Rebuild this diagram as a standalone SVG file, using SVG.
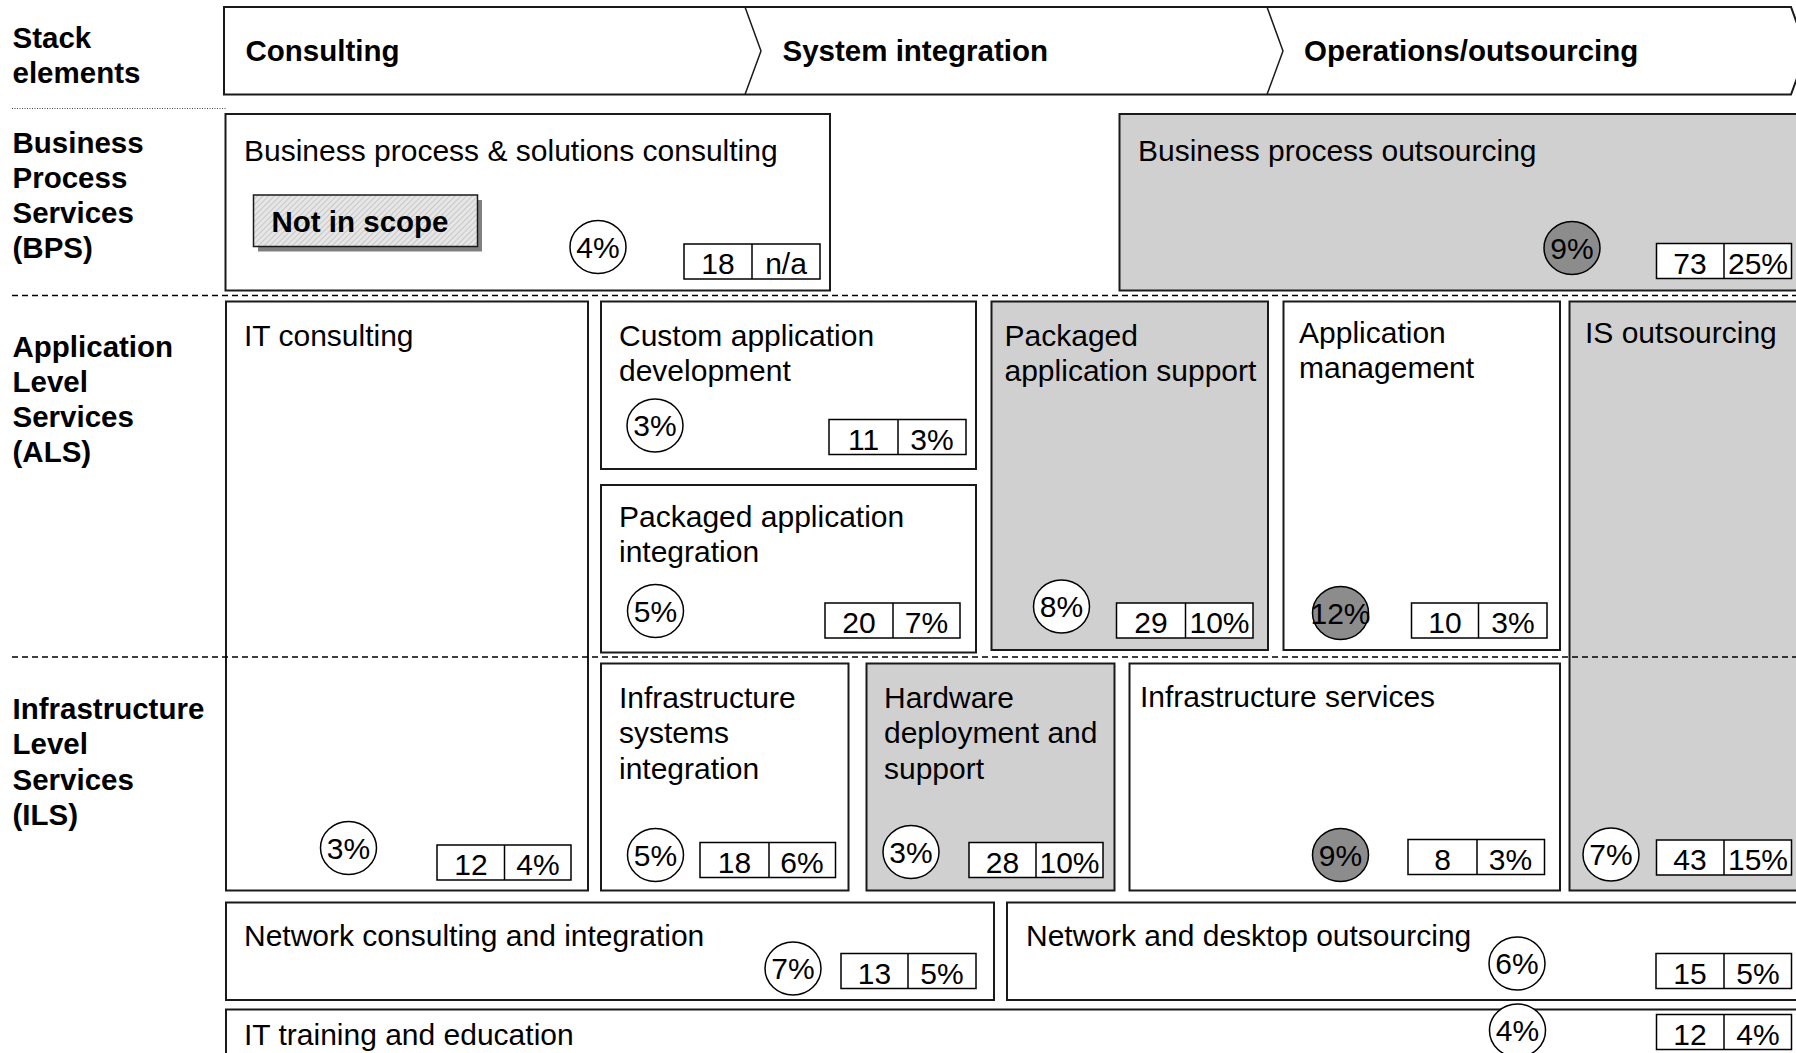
<svg xmlns="http://www.w3.org/2000/svg" width="1796" height="1053" viewBox="0 0 1796 1053">
<defs>
<style>
.t{font-family:"Liberation Sans",Arial,sans-serif;font-size:30px;fill:#000}
.b{font-weight:bold;font-size:29.5px}
.m{text-anchor:middle}
.box{fill:#fff;stroke:#1a1a1a;stroke-width:2}
.gbox{fill:#d0d0d0;stroke:#1a1a1a;stroke-width:2}
.vb{fill:#fff;stroke:#000;stroke-width:1.5}
.cw{fill:#fff;stroke:#000;stroke-width:1.5}
.cd{fill:#8c8c8c;stroke:#000;stroke-width:1.5}
.sep{stroke:#000;stroke-width:1.5;stroke-dasharray:6 4;fill:none}
</style>
<pattern id="hatch" width="4" height="4" patternUnits="userSpaceOnUse" patternTransform="rotate(45)">
<rect width="4" height="4" fill="#e6e6e6"/>
<line x1="0" y1="0" x2="0" y2="4" stroke="#a8a8a8" stroke-width="1"/>
</pattern>
</defs>
<rect width="1796" height="1053" fill="#fff"/>

<g id="header">
<path d="M224,7 L1791,7 L1807,51 L1791,94.5 L224,94.5 Z" fill="#fff" stroke="#1a1a1a" stroke-width="2"/>
<path d="M745,7 L761,51 L745,94.5 M1267,7 L1283,51 L1267,94.5" fill="none" stroke="#1a1a1a" stroke-width="1.5"/>
<text class="t b" x="245.5" y="61">Consulting</text>
<text class="t b" x="782.5" y="61">System integration</text>
<text class="t b" x="1304" y="61">Operations/outsourcing</text>
</g>

<g id="row-labels">
<text class="t b" x="12.5" y="48">Stack</text>
<text class="t b" x="12.5" y="83">elements</text>
<text class="t b" x="12.5" y="153">Business</text>
<text class="t b" x="12.5" y="188">Process</text>
<text class="t b" x="12.5" y="223">Services</text>
<text class="t b" x="12.5" y="258">(BPS)</text>
<text class="t b" x="12.5" y="356.5">Application</text>
<text class="t b" x="12.5" y="391.5">Level</text>
<text class="t b" x="12.5" y="427">Services</text>
<text class="t b" x="12.5" y="462">(ALS)</text>
<text class="t b" x="12.5" y="718.5">Infrastructure</text>
<text class="t b" x="12.5" y="754">Level</text>
<text class="t b" x="12.5" y="789.5">Services</text>
<text class="t b" x="12.5" y="825">(ILS)</text>
</g>

<g id="bps-consulting">
<rect class="box" x="225.5" y="114" width="604.5" height="176.5"/>
<text class="t" x="244" y="161">Business process &amp; solutions consulting</text>
<rect x="258" y="200" width="224" height="51.5" fill="#808080"/>
<rect x="253.5" y="195" width="224" height="51.5" fill="url(#hatch)" stroke="#1a1a1a" stroke-width="1.5"/>
<text class="t b" x="271.5" y="231.5">Not in scope</text>
<ellipse class="cw" cx="598" cy="247" rx="28" ry="26.5"/>
<text class="t m" x="598" y="257.5">4%</text>
<rect class="vb" x="684" y="244" width="136" height="35"/>
<line x1="752" y1="244" x2="752" y2="279" stroke="#000" stroke-width="1.5"/>
<text class="t m" x="718" y="274">18</text>
<text class="t m" x="786" y="274">n/a</text>
</g>

<g id="bpo">
<rect class="gbox" x="1119.5" y="114" width="690" height="176.5"/>
<text class="t" x="1138" y="161">Business process outsourcing</text>
<ellipse class="cd" cx="1572" cy="248" rx="28" ry="26.5"/>
<text class="t m" x="1572" y="258.5">9%</text>
<rect class="vb" x="1656.5" y="243.5" width="135" height="35"/>
<line x1="1724" y1="243.5" x2="1724" y2="278.5" stroke="#000" stroke-width="1.5"/>
<text class="t m" x="1690" y="273.5">73</text>
<text class="t m" x="1758" y="273.5">25%</text>
</g>

<g id="it-consulting">
<rect class="box" x="226" y="301.5" width="362" height="589"/>
<text class="t" x="244" y="345.5">IT consulting</text>
<ellipse class="cw" cx="348.5" cy="848" rx="28" ry="26.5"/>
<text class="t m" x="348.5" y="858.5">3%</text>
<rect class="vb" x="437" y="845" width="134" height="35"/>
<line x1="504.5" y1="845" x2="504.5" y2="880" stroke="#000" stroke-width="1.5"/>
<text class="t m" x="471" y="875">12</text>
<text class="t m" x="538" y="875">4%</text>
</g>

<g id="custom-app-dev">
<rect class="box" x="601" y="301.5" width="375" height="167.5"/>
<text class="t" x="619" y="345.5">Custom application</text>
<text class="t" x="619" y="381">development</text>
<ellipse class="cw" cx="655" cy="425.5" rx="28" ry="26.5"/>
<text class="t m" x="655" y="436">3%</text>
<rect class="vb" x="829" y="419.5" width="137" height="35"/>
<line x1="898" y1="419.5" x2="898" y2="454.5" stroke="#000" stroke-width="1.5"/>
<text class="t m" x="863.5" y="449.5">11</text>
<text class="t m" x="932" y="449.5">3%</text>
</g>

<g id="packaged-app-integration">
<rect class="box" x="601" y="485" width="375" height="167.5"/>
<text class="t" x="619" y="526.5">Packaged application</text>
<text class="t" x="619" y="562">integration</text>
<ellipse class="cw" cx="655.5" cy="611" rx="28" ry="26.5"/>
<text class="t m" x="655.5" y="621.5">5%</text>
<rect class="vb" x="825" y="603" width="135" height="35"/>
<line x1="893" y1="603" x2="893" y2="638" stroke="#000" stroke-width="1.5"/>
<text class="t m" x="859" y="633">20</text>
<text class="t m" x="926.5" y="633">7%</text>
</g>

<g id="packaged-app-support">
<rect class="gbox" x="991.5" y="301.5" width="276.5" height="348.5"/>
<text class="t" x="1004.5" y="345.5">Packaged</text>
<text class="t" x="1004.5" y="381">application support</text>
<ellipse class="cw" cx="1061.5" cy="606.5" rx="28" ry="26.5"/>
<text class="t m" x="1061.5" y="617">8%</text>
<rect class="vb" x="1116.5" y="603" width="136.5" height="35"/>
<line x1="1185.5" y1="603" x2="1185.5" y2="638" stroke="#000" stroke-width="1.5"/>
<text class="t m" x="1151" y="633">29</text>
<text class="t m" x="1219.5" y="633">10%</text>
</g>

<g id="app-management">
<rect class="box" x="1283.5" y="301.5" width="276.5" height="348.5"/>
<text class="t" x="1299" y="343">Application</text>
<text class="t" x="1299" y="378">management</text>
<ellipse class="cd" cx="1340.5" cy="613" rx="28" ry="26.5"/>
<text class="t m" x="1340.5" y="623.5">12%</text>
<rect class="vb" x="1411.5" y="603" width="135.5" height="35"/>
<line x1="1478.5" y1="603" x2="1478.5" y2="638" stroke="#000" stroke-width="1.5"/>
<text class="t m" x="1445" y="633">10</text>
<text class="t m" x="1513" y="633">3%</text>
</g>

<g id="is-outsourcing">
<rect class="gbox" x="1569.5" y="301.5" width="240" height="589"/>
<text class="t" x="1585" y="343">IS outsourcing</text>
<ellipse class="cw" cx="1611" cy="854.5" rx="28" ry="26.5"/>
<text class="t m" x="1611" y="865">7%</text>
<rect class="vb" x="1656.5" y="840" width="135" height="35"/>
<line x1="1724" y1="840" x2="1724" y2="875" stroke="#000" stroke-width="1.5"/>
<text class="t m" x="1690" y="870">43</text>
<text class="t m" x="1758" y="870">15%</text>
</g>

<g id="infra-systems-integration">
<rect class="box" x="601" y="663.5" width="247.5" height="227"/>
<text class="t" x="619" y="708">Infrastructure</text>
<text class="t" x="619" y="743">systems</text>
<text class="t" x="619" y="778.5">integration</text>
<ellipse class="cw" cx="655.5" cy="855" rx="28" ry="26.5"/>
<text class="t m" x="655.5" y="865.5">5%</text>
<rect class="vb" x="700" y="842.5" width="135.5" height="35"/>
<line x1="769" y1="842.5" x2="769" y2="877.5" stroke="#000" stroke-width="1.5"/>
<text class="t m" x="734.5" y="872.5">18</text>
<text class="t m" x="802" y="872.5">6%</text>
</g>

<g id="hardware-deployment">
<rect class="gbox" x="866.5" y="663.5" width="248" height="227"/>
<text class="t" x="884" y="708">Hardware</text>
<text class="t" x="884" y="743">deployment and</text>
<text class="t" x="884" y="778.5">support</text>
<ellipse class="cw" cx="911" cy="852" rx="28" ry="26.5"/>
<text class="t m" x="911" y="862.5">3%</text>
<rect class="vb" x="969" y="842.5" width="134" height="35"/>
<line x1="1036" y1="842.5" x2="1036" y2="877.5" stroke="#000" stroke-width="1.5"/>
<text class="t m" x="1002.5" y="872.5">28</text>
<text class="t m" x="1069.5" y="872.5">10%</text>
</g>

<g id="infra-services">
<rect class="box" x="1129.5" y="663.5" width="430.5" height="227"/>
<text class="t" x="1140" y="707">Infrastructure services</text>
<ellipse class="cd" cx="1340.5" cy="855" rx="28" ry="26.5"/>
<text class="t m" x="1340.5" y="865.5">9%</text>
<rect class="vb" x="1408" y="839.5" width="136.5" height="35"/>
<line x1="1477" y1="839.5" x2="1477" y2="874.5" stroke="#000" stroke-width="1.5"/>
<text class="t m" x="1442.5" y="869.5">8</text>
<text class="t m" x="1510.5" y="869.5">3%</text>
</g>

<g id="network-consulting">
<rect class="box" x="226" y="902.5" width="768" height="97.5"/>
<text class="t" x="244" y="945.5">Network consulting and integration</text>
<ellipse class="cw" cx="793" cy="968.5" rx="28" ry="26.5"/>
<text class="t m" x="793" y="979">7%</text>
<rect class="vb" x="841" y="953.5" width="135" height="35"/>
<line x1="908" y1="953.5" x2="908" y2="988.5" stroke="#000" stroke-width="1.5"/>
<text class="t m" x="874.5" y="983.5">13</text>
<text class="t m" x="942" y="983.5">5%</text>
</g>

<g id="network-desktop-outsourcing">
<rect class="box" x="1007" y="902.5" width="800" height="97.5"/>
<text class="t" x="1026" y="945.5">Network and desktop outsourcing</text>
<ellipse class="cw" cx="1517" cy="963.5" rx="28" ry="26.5"/>
<text class="t m" x="1517" y="974">6%</text>
<rect class="vb" x="1656" y="953.5" width="135.5" height="35"/>
<line x1="1724" y1="953.5" x2="1724" y2="988.5" stroke="#000" stroke-width="1.5"/>
<text class="t m" x="1690" y="983.5">15</text>
<text class="t m" x="1758" y="983.5">5%</text>
</g>

<g id="it-training">
<rect class="box" x="226" y="1009.5" width="1580" height="60"/>
<text class="t" x="244" y="1044.5">IT training and education</text>
<ellipse class="cw" cx="1517.5" cy="1030.5" rx="28" ry="26.5"/>
<text class="t m" x="1517.5" y="1041">4%</text>
<rect class="vb" x="1656.5" y="1014.5" width="135" height="35"/>
<line x1="1724" y1="1014.5" x2="1724" y2="1049.5" stroke="#000" stroke-width="1.5"/>
<text class="t m" x="1690" y="1044.5">12</text>
<text class="t m" x="1758" y="1044.5">4%</text>
</g>

<g id="separators">
<line x1="12" y1="108.5" x2="225.5" y2="108.5" stroke="#444" stroke-width="1" stroke-dasharray="1 1.5"/>
<line class="sep" x1="12" y1="295.5" x2="1796" y2="295.5"/>
<line class="sep" x1="12" y1="657" x2="1796" y2="657"/>
</g>
</svg>
